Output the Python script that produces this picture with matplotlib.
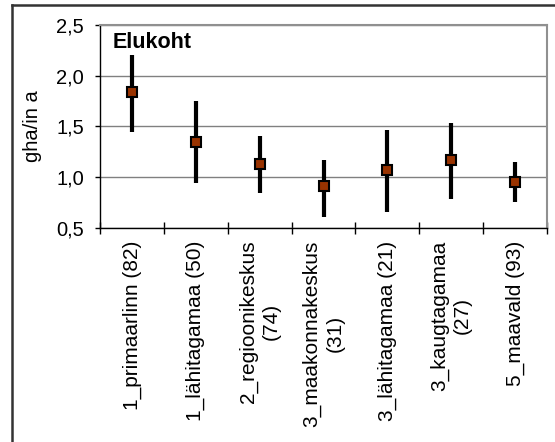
import matplotlib
matplotlib.use("Agg")
import matplotlib.pyplot as plt
from matplotlib.lines import Line2D
from matplotlib.ticker import FuncFormatter

categories = ["1_primaarlinn (82)", "1_lähitagamaa (50)", "2_regioonikeskus\n(74)",
              "3_maakonnakeskus\n(31)", "3_lähitagamaa (21)", "3_kaugtagamaa\n(27)",
              "5_maavald (93)"]
means = [1.84, 1.35, 1.13, 0.91, 1.07, 1.17, 0.95]
upper = [2.20, 1.75, 1.41, 1.17, 1.47, 1.53, 1.15]
lower = [1.45, 0.94, 0.84, 0.61, 0.66, 0.79, 0.76]
yticks = [0.5, 1.0, 1.5, 2.0, 2.5]

plt.rcParams['font.family'] = ['Liberation Sans', 'DejaVu Sans']

W, H = 555, 442
fig = plt.figure(figsize=(W/100, H/100), dpi=100)
ax = fig.add_axes([100/W, 1-228/H, 447/W, 203/H])

x = list(range(len(categories)))
for xi, lo, hi in zip(x, lower, upper):
    ax.plot([xi, xi], [lo, hi], color='black', lw=3.0, solid_capstyle='butt', zorder=3)
ax.plot(x, means, linestyle='none', marker='s', markersize=7.5,
        markerfacecolor='#993300', markeredgecolor='black', markeredgewidth=1.5, zorder=4)

ax.set_xlim(-0.5, len(categories)-0.5)
ax.set_ylim(0.5, 2.5)
ax.set_yticks(yticks)
ax.yaxis.set_major_formatter(FuncFormatter(lambda v, p: f"{v:.1f}".replace('.', ',')))
ax.grid(axis='y', color='#808080', lw=1.0)
ax.set_axisbelow(True)

for s in ['top', 'right']:
    ax.spines[s].set_color('#909090')
    ax.spines[s].set_linewidth(1.5)
for s in ['left', 'bottom']:
    ax.spines[s].set_color('black')
    ax.spines[s].set_linewidth(1.0)

ax.tick_params(axis='y', direction='out', length=3.5, width=1, labelsize=14.5, pad=8)
ax.set_xticks([i - 0.5 for i in range(len(categories)+1)], minor=False)
ax.set_xticklabels([])
ax.tick_params(axis='x', which='major', direction='inout', length=9, width=1)
ax.set_xticks(x, minor=True)
ax.set_xticklabels(categories, minor=True, rotation=90, va='top', ha='center',
                   multialignment='center', fontsize=15, linespacing=1.25)
ax.tick_params(axis='x', which='minor', length=0, pad=9)

ax.set_ylabel("gha/in a", fontsize=14.5, labelpad=10)
ax.text(0.028, 0.965, "Elukoht", transform=ax.transAxes, fontsize=15.5,
        fontweight='bold', va='top', ha='left')

fig.add_artist(Line2D([12/W, 12/W], [0, 1-5/H], transform=fig.transFigure,
                      color='#333333', lw=1.8))
fig.add_artist(Line2D([12/W, 1], [1-5/H, 1-5/H], transform=fig.transFigure,
                      color='#333333', lw=1.8))

fig.savefig("out.png", dpi=100)
